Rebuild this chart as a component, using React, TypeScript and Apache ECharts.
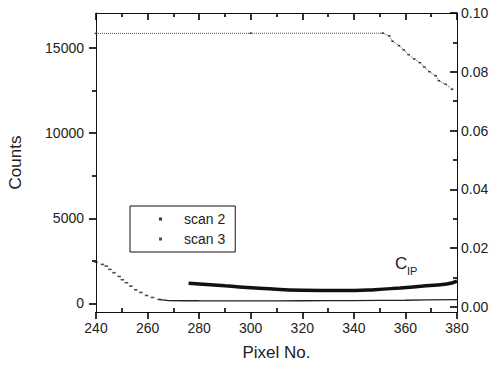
import { useEffect, useRef } from "react";
import * as echarts from "echarts";

// ---- axis ranges and ticks ----
const pixelMin = 240;
const pixelMax = 380;
const countMin = -500;
const countMax = 17050;
const ratioMin = -0.0017;
const ratioMax = 0.1;
const xMinorTicks = [250, 270, 290, 310, 330, 350, 370];
const countTicks = [0, 5000, 10000, 15000];
const countMinorTicks = [2500, 7500, 12500];
const ratioTicks = [0, 0.02, 0.04, 0.06, 0.08, 0.1];
const ratioMinorTicks = [0.01, 0.03, 0.05, 0.07, 0.09];

// ---- scan 2 (upper, saturated then falling) ----
const scan2Pixel = [240, 300, 351.2, 353.7, 355.0, 357.5, 359.4, 361.2, 363.4, 365.6, 367.3, 369.3, 371.7, 373.0, 375.6, 378.1];
const scan2Counts = [15850, 15860, 15865, 15706, 15394, 15135, 14882, 14606, 14353, 14135, 13882, 13606, 13371, 13076, 12865, 12571];

// ---- scan 3 (lower, decaying) ----
const scan3Pixel = [240, 242.5, 244, 245.4, 247, 249, 250.2, 251.8, 253.5, 255.4, 257.4, 259.6, 261.9, 264.5];
const scan3Counts = [2430, 2294, 2194, 2000, 1806, 1588, 1394, 1218, 1018, 806, 647, 470, 353, 235];
const scan3FlatPixel = [264.5, 268, 280, 300, 320, 340, 360, 380];
const scan3FlatCounts = [235, 170, 160, 155, 160, 170, 190, 230];

// ---- C_IP (right axis) ----
const cipPixel = [275.9, 290, 305, 320, 335, 348, 358, 368, 376, 380];
const cipValue = [0.0081, 0.0072, 0.0063, 0.0057, 0.0056, 0.0059, 0.0065, 0.0072, 0.0078, 0.0088];

const zip = (xs: number[], ys: number[]) => xs.map((x, i) => [x, ys[i]]);

const FONT = "'Liberation Sans', Arial, sans-serif";
const TEXT = "#222";
const TICK = { color: "#000", width: 1.6 };

export default function App() {
  const ref = useRef<HTMLDivElement>(null);
  useEffect(() => {
    if (!ref.current) return;
    const chart = echarts.init(ref.current, null, { renderer: "svg" });
    chart.setOption({
      animation: false,
      grid: { left: 96, right: 39, top: 13, bottom: 57, containLabel: false, outerBoundsMode: "none" },
      legend: {
        orient: "vertical",
        left: 130,
        top: 206,
        data: ["scan 2", "scan 3"],
        icon: "rect",
        itemWidth: 3,
        itemHeight: 3,
        itemGap: 6,
        padding: [6, 10, 6, 29],
        borderColor: "#111",
        borderWidth: 1,
        formatter: (n: string) => "{t|" + n + "}",
        textStyle: {
          fontFamily: FONT,
          fontSize: 14,
          color: TEXT,
          rich: { t: { fontFamily: FONT, fontSize: 14, color: TEXT, padding: [0, 0, 0, 17] } },
        },
      },
      xAxis: [
        {
          type: "value", position: "bottom", min: pixelMin, max: pixelMax, interval: 20,
          axisLine: { show: true, onZero: false, lineStyle: { color: "#111", width: 1 } },
          axisTick: { show: true, length: 7, lineStyle: { ...TICK } },
          axisLabel: { fontFamily: FONT, fontSize: 14, color: TEXT, margin: 9, formatter: (v: number) => String(v) },
          splitLine: { show: false },
          name: "Pixel No.", nameLocation: "middle", nameGap: 32,
          nameTextStyle: { fontFamily: FONT, fontSize: 17, color: TEXT },
        },
        {
          type: "value", position: "bottom", min: pixelMin, max: pixelMax,
          axisLine: { show: false, onZero: false },
          axisTick: { show: true, inside: true, length: 4, customValues: xMinorTicks, lineStyle: { ...TICK } },
          axisLabel: { show: false },
          splitLine: { show: false },
        },
        {
          type: "value", position: "top", min: pixelMin, max: pixelMax, interval: 20,
          axisLine: { show: true, onZero: false, lineStyle: { color: "#111", width: 1 } },
          axisTick: { show: true, inside: true, length: 7, lineStyle: { ...TICK } },
          minorTick: { show: true, splitNumber: 2, length: 4, lineStyle: { ...TICK } },
          axisLabel: { show: false },
          splitLine: { show: false },
        },
      ],
      yAxis: [
        {
          type: "value", position: "left", min: countMin, max: countMax,
          axisLine: { show: true, onZero: false, lineStyle: { color: "#111", width: 1 } },
          axisTick: { show: true, length: 7, customValues: countTicks, lineStyle: { ...TICK } },
          axisLabel: { fontFamily: FONT, fontSize: 14, color: TEXT, margin: 12, customValues: countTicks, formatter: (v: number) => String(v) },
          splitLine: { show: false },
          name: "Counts", nameLocation: "middle", nameGap: 72,
          nameTextStyle: { fontFamily: FONT, fontSize: 17, color: TEXT },
        },
        {
          type: "value", position: "right", min: ratioMin, max: ratioMax,
          axisLine: { show: true, onZero: false, lineStyle: { color: "#111", width: 1 } },
          axisTick: { show: true, inside: true, length: 7, customValues: ratioTicks, lineStyle: { ...TICK } },
          axisLabel: { fontFamily: FONT, fontSize: 14, color: TEXT, margin: 4, customValues: ratioTicks, formatter: (v: number) => v.toFixed(2) },
          splitLine: { show: false },
        },
        {
          type: "value", position: "left", min: countMin, max: countMax,
          axisLine: { show: false, onZero: false },
          axisTick: { show: true, length: 4, customValues: countMinorTicks, lineStyle: { ...TICK } },
          axisLabel: { show: false },
          splitLine: { show: false },
        },
        {
          type: "value", position: "right", min: ratioMin, max: ratioMax,
          axisLine: { show: false, onZero: false },
          axisTick: { show: true, inside: true, length: 4, customValues: ratioMinorTicks, lineStyle: { ...TICK } },
          axisLabel: { show: false },
          splitLine: { show: false },
        },
      ],
      series: [
        {
          name: "scan 2", type: "line", xAxisIndex: 0, yAxisIndex: 0,
          data: zip(scan2Pixel, scan2Counts),
          symbol: "rect", symbolSize: [2.5, 1.5], showSymbol: true,
          color: "#333", itemStyle: { color: "#333" },
          lineStyle: { type: "dotted", width: 1, color: "#555" },
        },
        {
          name: "scan 3", type: "scatter", xAxisIndex: 0, yAxisIndex: 0,
          data: zip(scan3Pixel, scan3Counts),
          symbol: "rect", symbolSize: [3.5, 1.6],
          color: "#222", itemStyle: { color: "#222" },
        },
        {
          name: "scan 3", type: "line", xAxisIndex: 0, yAxisIndex: 0,
          data: zip(scan3FlatPixel, scan3FlatCounts),
          showSymbol: false, smooth: 0.3,
          color: "#222", lineStyle: { width: 1.3, color: "#222" },
        },
        {
          name: "C_IP", type: "line", xAxisIndex: 0, yAxisIndex: 1,
          data: zip(cipPixel, cipValue),
          showSymbol: false, smooth: 0.5,
          color: "#111", lineStyle: { width: 3.5, color: "#111" },
        },
      ],
      graphic: [
        { type: "text", left: 395, top: 255, style: { text: "C", fontFamily: FONT, fontSize: 17, fill: TEXT } },
        { type: "text", left: 407, top: 265, style: { text: "IP", fontFamily: FONT, fontSize: 11, fill: TEXT } },
      ],
    });
    return () => chart.dispose();
  }, []);
  return (
    <div
      ref={ref}
      style={{ position: "fixed", left: 0, top: 0, width: 496, height: 369, background: "#fff" }}
    />
  );
}
